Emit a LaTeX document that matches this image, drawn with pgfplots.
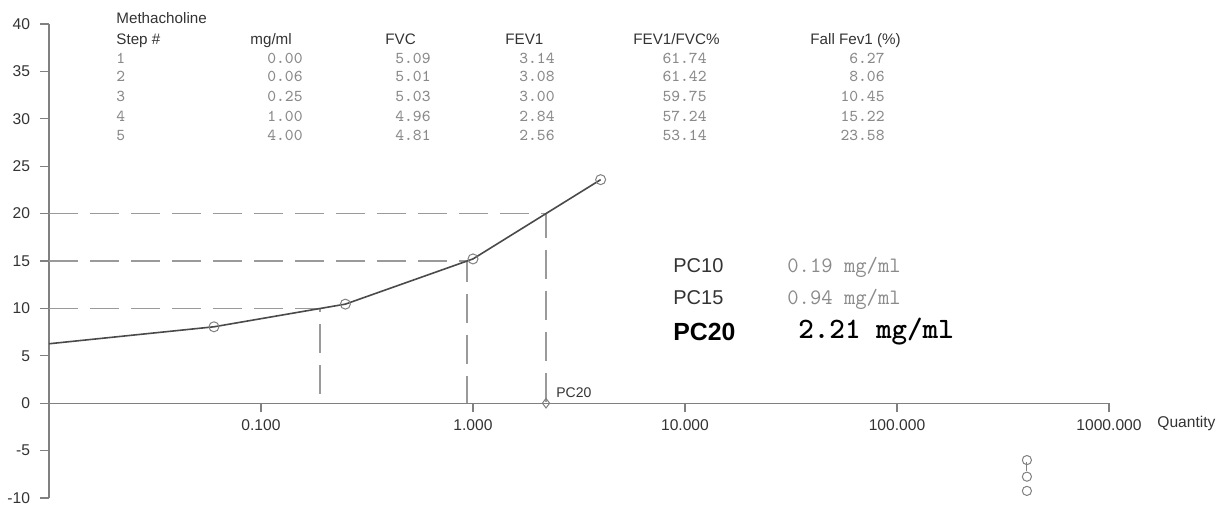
\documentclass[border=0pt]{standalone}
\usepackage{pgfplots}
\pgfplotsset{compat=1.18}
\usepackage{fontspec}
\newfontfamily\arial{Liberation Sans}
\definecolor{txt}{HTML}{333333}
\definecolor{val}{HTML}{8A8A8A}
\definecolor{axc}{HTML}{808080}
\definecolor{dsh}{HTML}{9A9A9A}
\definecolor{crv}{HTML}{4A4A4A}
\newcommand{\hd}{\arial\fontsize{7.6}{9}\selectfont\color{txt}}
\newcommand{\vl}{\ttfamily\fontsize{8.3}{10}\selectfont\color{val}}
\begin{document}
\begin{tikzpicture}
\useasboundingbox (0,0) rectangle (611pt,252.5pt);
\begin{axis}[
  at={(24.5pt,3.5pt)}, anchor=south west,
  scale only axis, width=530pt, height=237pt,
  xmode=log, xmin=0.01, xmax=1000, ymin=-10, ymax=40,
  axis x line=middle, axis y line=left,
  axis line style={-, axc, line width=0.6pt},
  tick align=outside, major tick length=4.5pt,
  tick style={axc, line width=0.6pt},
  xminorticks=false, yminorticks=false,
  hide obscured x ticks=false, hide obscured y ticks=false,
  xtick={0.1,1,10,100,1000},
  xticklabels={0.100,1.000,10.000,100.000,1000.000},
  ytick={-10,-5,...,40},
  yticklabels={-10,-5,0,5,10,15,20,25,30,35,40},
  ticklabel style={font=\arial\fontsize{7.8}{9}\selectfont, text=txt},
  yticklabel style={xshift=-1.5pt},
  clip=false,
]
\addplot[dsh, line width=0.8pt, dash pattern=on 14.5pt off 6pt] coordinates {(0.01,10) (0.19,10) (0.19,0)};
\addplot[dsh, line width=0.8pt, dash pattern=on 14.5pt off 6pt] coordinates {(0.01,15) (0.94,15) (0.94,0)};
\addplot[dsh, line width=0.8pt, dash pattern=on 14.5pt off 6pt] coordinates {(0.01,20) (2.21,20) (2.21,0)};
\addplot[crv, line width=0.8pt] coordinates {(0.01,6.27) (0.06,8.06) (0.25,10.45) (1,15.22) (4,23.58)};
\addplot[only marks, mark=o, mark size=2.5pt, mark options={axc, line width=0.5pt}] coordinates {(0.06,8.06) (0.25,10.45) (1,15.22) (4,23.58)};
\addplot[only marks, mark=diamond, mark size=2.4pt, mark options={axc, line width=0.5pt}] coordinates {(2.21,0)};
\node[anchor=west, inner sep=0pt, font=\arial\fontsize{7}{8}\selectfont, text=txt] at (axis cs:2.21,1.1) {\hspace{5pt}PC20};
\addplot[axc, line width=0.5pt] coordinates {(410,-6.2) (410,-7.2)};
\addplot[only marks, mark=o, mark size=2.3pt, mark options={axc, line width=0.5pt}] coordinates {(410,-6) (410,-7.75) (410,-9.25)};
\end{axis}
\begin{scope}[x=0.5pt,y=-0.5pt,shift={(0pt,252.5pt)}]
\node[anchor=base west, inner sep=0pt] at (116,24) {\hd Methacholine};
\node[anchor=base west, inner sep=0pt] at (116,44) {\hd Step \#};
\node[anchor=base west, inner sep=0pt] at (250,44) {\hd mg/ml};
\node[anchor=base west, inner sep=0pt] at (385,44) {\hd FVC};
\node[anchor=base west, inner sep=0pt] at (505,44) {\hd FEV1};
\node[anchor=base west, inner sep=0pt] at (633,44) {\hd FEV1/FVC\%};
\node[anchor=base west, inner sep=0pt] at (810,44) {\hd Fall Fev1 (\%)};
\foreach \r/\y/\a/\b/\c/\d/\e in {1/63/0.00/5.09/3.14/61.74/6.27, 2/82/0.06/5.01/3.08/61.42/8.06, 3/101.5/0.25/5.03/3.00/59.75/10.45, 4/121/1.00/4.96/2.84/57.24/15.22, 5/140/4.00/4.81/2.56/53.14/23.58}{
  \node[anchor=base west, inner sep=0pt] at (116,\y) {\vl \r};
  \node[anchor=base east, inner sep=0pt] at (303,\y) {\vl \a};
  \node[anchor=base east, inner sep=0pt] at (431,\y) {\vl \b};
  \node[anchor=base east, inner sep=0pt] at (555,\y) {\vl \c};
  \node[anchor=base east, inner sep=0pt] at (707,\y) {\vl \d};
  \node[anchor=base east, inner sep=0pt] at (885,\y) {\vl \e};
}
\node[anchor=base west, inner sep=0pt] at (673,272) {\arial\fontsize{10}{12}\selectfont\color{txt}PC10};
\node[anchor=base west, inner sep=0pt] at (787,272) {\ttfamily\fontsize{11}{13}\selectfont\color{val}0.19 mg/ml};
\node[anchor=base west, inner sep=0pt] at (673,304) {\arial\fontsize{10}{12}\selectfont\color{txt}PC15};
\node[anchor=base west, inner sep=0pt] at (787,304) {\ttfamily\fontsize{11}{13}\selectfont\color{val}0.94 mg/ml};
\node[anchor=base west, inner sep=0pt] at (673,340) {\arial\bfseries\fontsize{12.4}{14}\selectfont PC20};
\node[anchor=base west, inner sep=0pt] at (798,338) {\ttfamily\bfseries\fontsize{14.8}{16}\selectfont 2.21 mg/ml};
\node[anchor=base west, inner sep=0pt] at (1157,427) {\arial\fontsize{7.8}{9}\selectfont\color{txt}Quantity};
\end{scope}
\end{tikzpicture}
\end{document}
